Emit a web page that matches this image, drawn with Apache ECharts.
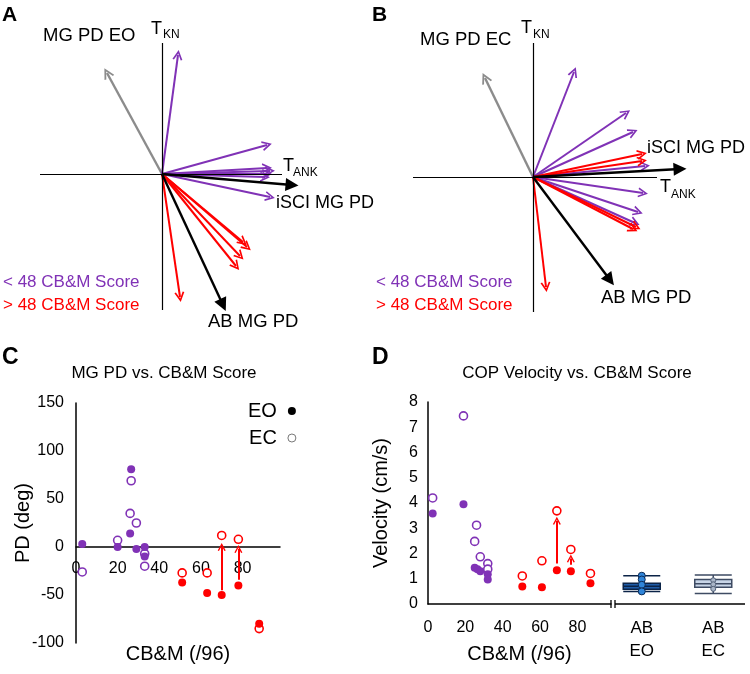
<!DOCTYPE html>
<html><head><meta charset="utf-8">
<script src="https://cdn.jsdelivr.net/npm/echarts@6/dist/echarts.min.js"></script>
<style>html,body{margin:0;padding:0;background:#fff}#c{width:750px;height:674px}</style>
</head><body><div id="c"></div><script>
// ---------- Panel A: vector tips (origin 0,0; y up) ----------
const aPurple = [[16,119],[105,29],[105,6],[108,3],[105,0],[103,-3],[108,-23]];
const aRed    = [[85,-73],[81,-68],[78,-82],[74,-92],[18,-123]];
const aGray   = [[-55,101]];
const aIsci   = [[130,-11]];
const aAB     = [[61,-131]];
const aAxes   = [[[-122,0],[120,0]],[[0,131],[0,-136]]];
// ---------- Panel B ----------
const bPurple = [[41,105],[93,64],[100,45],[112,11],[110,-16],[105,-35],[102,-46]];
const bRed    = [[109,23],[109,16],[103,-50],[100,-52],[13,-110]];
const bGray   = [[-48,99]];
const bIsci   = [[147,8]];
const bAB     = [[77,-103]];
const bAxes   = [[[-120,0],[124,0]],[[0,134],[0,-135]]];
// ---------- Panel C: MG PD (deg) vs CB&M ----------
const cPurpleEO = [[3,3],[20,0],[26,14],[26.5,81],[29,-2],[33,0],[33,-10]];
const cPurpleEC = [[3,-26],[20,7],[26,35],[26.5,69],[29,25],[33,-7],[33,-20]];
const cRedEO    = [[51,-37],[63,-48],[70,-50],[78,-40],[88,-80]];
const cRedEC    = [[51,-27],[63,-27],[70,12],[78,8],[88,-85]];
const cShift    = [[[70,-45],[70,0]],[[78,-34],[78,-2]]];
const cXTicks = [0,20,40,60,80];
// ---------- Panel D: COP velocity ----------
const dPurpleEO = [[2.5,3.58],[19,3.95],[25,1.44],[26.5,1.38],[28,1.3],[32,1.18],[32,0.97]];
const dPurpleEC = [[2.5,4.2],[19,7.45],[26,3.12],[25,2.48],[28,1.87],[32,1.6],[32,1.38]];
const dRedEO    = [[50.5,0.69],[61,0.66],[69,1.34],[76.5,1.3],[87,0.82]];
const dRedEC    = [[50.5,1.11],[61,1.71],[69,3.69],[76.5,2.16],[87,1.21]];
const dShift    = [[[69,1.6],[69,3.3]],[[76.5,1.55],[76.5,1.8]]];
const abCats = ['AB\nEO','AB\nEC'];
const abBox  = [[0.5,0.58,0.7,0.82,1.12],[0.42,0.66,0.8,0.97,1.15]];
const abEOdots = [1.12,0.97,0.76,0.5];
const abECdots = [0.94,0.78,0.6];

const PURPLE = '#8032b6', RED = '#ff0000', FONT = 'Liberation Sans, Arial, Helvetica, sans-serif';
const CHEV = 'path://M5,0 L9.4,10 L8,10.6 L5,3.6 L2,10.6 L0.6,10 Z';

function arrows(tips, color, width, sym, size, gi, z) {
  return {type:'lines', coordinateSystem:'cartesian2d', xAxisIndex:gi, yAxisIndex:gi,
    symbol:['none', sym], symbolSize:size, silent:true, z:z||2,
    lineStyle:{color:color, width:width, opacity:1},
    data: tips.map(t => ({coords:[[0,0], t]}))};
}
function segs(list, color, width, gi, sym, size) {
  return {type:'lines', coordinateSystem:'cartesian2d', xAxisIndex:gi, yAxisIndex:gi,
    symbol:['none', sym||'none'], symbolSize:size||0, silent:true, z:3,
    lineStyle:{color:color, width:width, opacity:1},
    data: list.map(s => ({coords:s}))};
}
function txt(x, y, text, size, color, extra) {
  return Object.assign({type:'text', x:x, y:y, silent:true,
    style:Object.assign({text:text, fontSize:size, fontFamily:FONT, fill:color||'#000',
      align:'left', verticalAlign:'middle'}, (extra||{}))});
}
function pts(data, gi, name, color, hollow) {
  return {type:'scatter', name:name, xAxisIndex:gi, yAxisIndex:gi, symbolSize:8, z:4,
    itemStyle: hollow ? {color:'#fff', borderColor:color, borderWidth:1.6, opacity:1} : {color:color, opacity:1},
    data:data};
}
const hid = (min,max,gi) => ({type:'value', min:min, max:max, show:false, gridIndex:gi});
const axisBase = {axisTick:{show:false}, splitLine:{show:false}, nameMoveOverlap:false,
  axisLine:{show:true, onZero:false, lineStyle:{color:'#000', width:1.5}},
  nameTextStyle:{fontSize:20, color:'#000', fontFamily:FONT}};

const option = {
  animation:false,
  textStyle:{fontFamily:FONT},
  grid:[
    {left:0, top:0, width:300, height:330, outerBoundsMode:'none'},
    {left:370, top:0, width:380, height:330, outerBoundsMode:'none'},
    {left:76, top:403, width:204, height:240, outerBoundsMode:'none'},
    {left:428, top:402, width:183, height:202, outerBoundsMode:'none'},
    {left:606, top:402, width:143, height:202, outerBoundsMode:'none'}
  ],
  xAxis:[
    hid(-162,138,0), hid(-163,217,1),
    Object.assign({}, axisBase, {type:'value', gridIndex:2, min:0, max:98, interval:20,
      position:'bottom', offset:-96,
      axisLabel:{color:'#000', fontSize:16, margin:14, showMaxLabel:false,
        formatter: v => cXTicks.indexOf(v) >= 0 ? String(v) : ''},
      name:'CB&M (/96)', nameLocation:'middle', nameGap:97}),
    Object.assign({}, axisBase, {type:'value', gridIndex:3, min:0, max:98, interval:20,
      axisLabel:{color:'#000', fontSize:16, margin:16, showMaxLabel:false},
      name:'CB&M (/96)', nameLocation:'middle', nameGap:40}),
    {type:'category', gridIndex:4, data:abCats, axisLine:{show:false}, axisTick:{show:false},
      axisLabel:{color:'#000', fontSize:17, lineHeight:23, margin:13}}
  ],
  yAxis:[
    hid(-156,174,0), hid(-153,177,1),
    Object.assign({}, axisBase, {type:'value', gridIndex:2, min:-100, max:150, interval:50,
      axisLabel:{color:'#000', fontSize:16, margin:12},
      name:'PD (deg)', nameLocation:'middle', nameGap:43}),
    Object.assign({}, axisBase, {type:'value', gridIndex:3, min:0, max:8, interval:1,
      axisLabel:{color:'#000', fontSize:16, margin:10},
      name:'Velocity (cm/s)', nameLocation:'middle', nameGap:37}),
    {type:'value', gridIndex:4, min:0, max:8, show:false}
  ],
  legend:{left:243, top:396, orient:'vertical', align:'right', itemWidth:8, itemHeight:8,
    itemGap:7, selectedMode:false, icon:'circle',
    textStyle:{fontSize:20, color:'#000', fontFamily:FONT, padding:[0,6,0,0]},
    data:[{name:'EO', itemStyle:{color:'#000', opacity:1}},
          {name:'EC', itemStyle:{color:'#fff', borderColor:'#777', borderWidth:1, opacity:1}}]},
  series:[
    // A
    segs(aAxes, '#000', 1.2, 0),
    arrows(aGray, '#8c8c8c', 2.4, CHEV, 11, 0),
    arrows(aPurple, PURPLE, 2, CHEV, 10, 0),
    arrows(aRed, RED, 2, CHEV, 10, 0),
    arrows(aIsci, '#000', 2.4, 'triangle', 13, 0, 5),
    arrows(aAB, '#000', 2.4, 'triangle', 13, 0, 5),
    // B
    segs(bAxes, '#000', 1.2, 1),
    arrows(bGray, '#8c8c8c', 2.4, CHEV, 11, 1),
    arrows(bPurple, PURPLE, 2, CHEV, 10, 1),
    arrows(bRed, RED, 2, CHEV, 10, 1),
    arrows(bIsci, '#000', 2.4, 'triangle', 13, 1, 5),
    arrows(bAB, '#000', 2.4, 'triangle', 13, 1, 5),
    // C
    pts(cPurpleEC, 2, 'EC', PURPLE, true),
    pts(cRedEC, 2, 'EC', RED, true),
    pts(cPurpleEO, 2, 'EO', PURPLE, false),
    pts(cRedEO, 2, 'EO', RED, false),
    segs(cShift, RED, 2, 2, CHEV, 8),
    // D
    pts(dPurpleEC, 3, 'dEC', PURPLE, true),
    pts(dRedEC, 3, 'dEC', RED, true),
    pts(dPurpleEO, 3, 'dEO', PURPLE, false),
    pts(dRedEO, 3, 'dEO', RED, false),
    segs(dShift, RED, 2, 3, CHEV, 8),
    {type:'boxplot', xAxisIndex:4, yAxisIndex:4, boxWidth:[37,37], silent:true,
      data:[{value:abBox[0], itemStyle:{color:'#1f5ca8', borderColor:'#0b2347', borderWidth:1.5}},
            {value:abBox[1], itemStyle:{color:'#c9d6e8', borderColor:'#3e4b63', borderWidth:1.5}}]},
    {type:'scatter', xAxisIndex:4, yAxisIndex:4, symbolSize:7, z:5,
      itemStyle:{color:'#2f84d8', borderColor:'#0b2a55', borderWidth:1, opacity:1},
      data:abEOdots.map(v => [0, v])},
    {type:'scatter', xAxisIndex:4, yAxisIndex:4, symbolSize:5, z:5,
      itemStyle:{color:'#aab6c8', borderColor:'#55637a', borderWidth:1, opacity:1},
      data:abECdots.map(v => [1, v])}
  ],
  graphic:[
    // Panel A texts
    txt(2, 15, 'A', 21, '#000', {fontWeight:'bold'}),
    txt(43, 36, 'MG PD EO', 18.5),
    txt(151, 29, 'T', 18), txt(163, 35, 'KN', 12),
    txt(283, 166, 'T', 18), txt(293, 173, 'ANK', 12),
    txt(276, 203, 'iSCI MG PD', 18),
    txt(3, 282, '< 48 CB&M Score', 17, PURPLE),
    txt(3, 305, '> 48 CB&M Score', 17, RED),
    txt(208, 322, 'AB MG PD', 18.5),
    // Panel B texts
    txt(372, 15, 'B', 21, '#000', {fontWeight:'bold'}),
    txt(420, 40, 'MG PD EC', 18.5),
    txt(521, 28, 'T', 18), txt(533, 35, 'KN', 12),
    txt(647, 148, 'iSCI MG PD', 18),
    txt(660, 187, 'T', 18), txt(671, 195, 'ANK', 12),
    txt(376, 282, '< 48 CB&M Score', 17, PURPLE),
    txt(376, 305, '> 48 CB&M Score', 17, RED),
    txt(601, 298, 'AB MG PD', 18.5),
    // Panel C/D titles
    txt(2, 358, 'C', 23, '#000', {fontWeight:'bold'}),
    txt(164, 373, 'MG PD vs. CB&M Score', 17, '#000', {align:'center'}),
    txt(372, 358, 'D', 23, '#000', {fontWeight:'bold'}),
    txt(577, 373, 'COP Velocity vs. CB&M Score', 17, '#000', {align:'center'}),
    // D axis continuation after break
    {type:'line', silent:true, shape:{x1:615, y1:604, x2:745, y2:604}, style:{stroke:'#000', lineWidth:1.5}},
    {type:'line', silent:true, shape:{x1:611, y1:600, x2:611, y2:608}, style:{stroke:'#000', lineWidth:1.3}},
    {type:'line', silent:true, shape:{x1:615, y1:600, x2:615, y2:608}, style:{stroke:'#000', lineWidth:1.3}}
  ]
};
const chart = echarts.init(document.getElementById('c'), null, {renderer:'canvas'});
chart.setOption(option);
</script></body></html>
